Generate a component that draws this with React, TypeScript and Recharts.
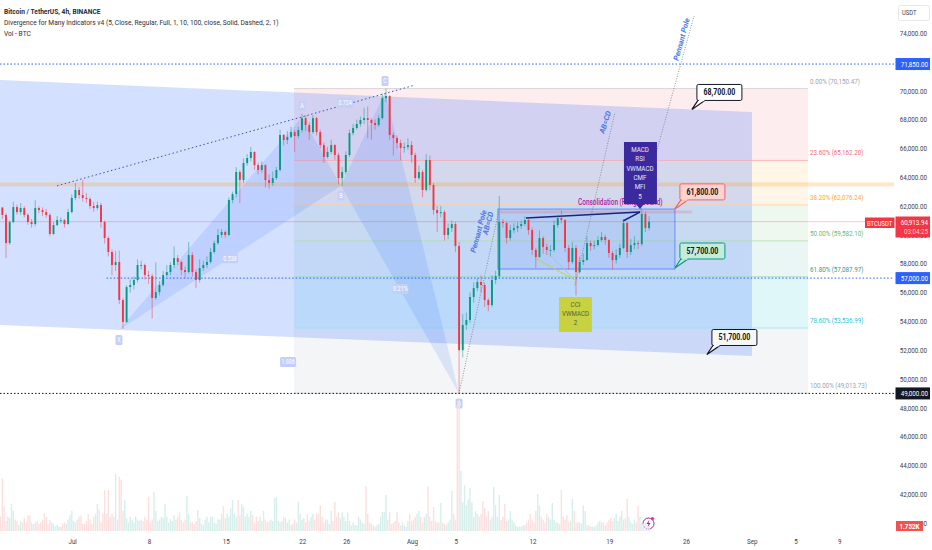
import React from "react";
import { ComposedChart, Bar, XAxis, YAxis, ReferenceArea } from "recharts";

document.body.style.margin = "0";

const FONT = 'Roboto, "Liberation Sans", sans-serif';
const SQUEEZE = 0.78;

// Candle data, one candle per 8h slot, price in thousands of USDT
const closes = [61.38,59.43,60.89,61.93,61.58,61.86,61.38,60.89,60.75,61.86,61.72,61.58,61.38,60.06,60.68,61.03,61.03,60.75,61.58,62.56,63.11,62.76,62.56,62.49,62.0,61.86,62.07,60.89,59.78,58.81,57.91,58.12,55.48,53.95,56.38,56.52,56.87,57.91,57.91,57.21,57.14,55.62,56.03,56.52,57.21,57.42,57.91,58.39,58.12,57.56,57.42,58.6,57.42,56.87,57.7,57.91,58.12,58.81,59.43,59.99,60.2,59.99,62.42,62.83,64.36,63.8,64.98,65.33,65.75,64.84,64.5,64.84,63.8,63.6,63.94,64.5,66.93,66.58,66.79,67.13,66.86,67.27,68.1,67.62,67.13,68.1,67.13,66.23,65.4,65.75,66.23,65.54,63.94,64.36,65.54,67.06,67.41,67.69,67.97,68.1,67.97,67.76,67.62,68.1,69.49,69.63,66.93,66.72,66.37,66.02,66.09,66.23,65.54,63.94,64.36,63.11,65.19,63.46,61.72,61.51,61.58,59.99,60.47,60.75,59.22,52.0,53.75,54.09,55.69,56.31,56.73,56.52,55.48,55.13,56.87,57.14,60.89,60.82,59.78,60.33,60.47,60.61,60.75,61.03,60.33,58.95,58.46,59.78,59.16,58.95,58.95,60.68,61.17,61.03,59.09,58.12,59.09,57.42,58.12,58.25,59.43,59.22,59.29,59.64,59.85,59.64,58.74,58.25,58.6,59.09,60.82,58.81,59.29,59.43,59.36,61.45,60.47,60.91];
const highs = [61.9,61.5,61.0,62.3,62.1,62.2,62.0,61.5,61.1,62.4,62.0,61.9,61.8,61.5,60.9,61.3,61.2,61.1,61.8,62.8,63.6,63.3,63.8,62.9,62.6,62.3,62.3,62.2,61.0,59.9,59.0,58.9,58.9,55.6,56.5,56.9,57.1,58.3,58.2,58.0,57.5,57.3,58.1,56.8,57.5,57.9,58.1,59.2,58.6,58.2,57.8,59.5,58.8,57.6,58.3,58.2,58.5,59.1,59.6,60.4,60.4,60.3,62.6,63.0,64.7,64.5,65.3,65.6,66.1,65.8,65.0,65.1,64.9,64.2,64.4,64.7,67.3,67.0,67.2,67.5,67.3,67.5,68.4,68.3,67.8,68.3,68.2,67.3,66.4,66.1,66.6,66.3,65.7,64.7,65.8,67.3,67.7,68.0,68.2,68.8,68.9,68.1,68.0,68.3,69.8,70.15,69.7,67.1,66.9,66.6,66.4,66.7,66.5,65.7,64.8,64.5,65.6,65.5,63.6,62.0,62.0,61.7,60.8,61.0,60.9,59.5,54.5,54.6,56.0,56.7,57.0,57.2,56.7,55.6,57.2,57.5,62.7,61.1,60.9,60.7,60.8,60.9,61.0,61.3,61.1,60.5,59.1,60.3,59.9,59.4,59.3,61.0,61.4,61.7,61.1,59.3,59.5,59.3,58.5,58.7,59.9,59.6,59.6,59.9,60.2,60.0,59.7,58.9,59.0,59.4,61.1,60.9,59.7,59.9,59.6,61.8,61.6,61.3];
const lows = [61.1,58.39,59.3,60.8,61.4,61.4,61.2,60.7,60.5,60.6,61.5,61.3,61.2,59.9,60.0,60.6,60.8,60.5,60.7,61.5,62.4,62.5,62.3,62.2,61.8,61.6,61.7,60.5,59.4,58.5,57.2,57.5,55.2,53.47,53.9,56.0,56.2,56.7,57.6,56.9,56.6,54.2,55.5,55.8,56.4,57.1,57.2,57.7,57.9,57.2,57.0,57.3,57.1,56.3,56.7,57.5,57.7,58.0,58.7,59.3,59.8,59.8,59.9,62.2,62.6,62.2,63.6,64.8,65.1,64.5,64.2,64.3,63.3,63.2,63.4,63.8,64.4,66.2,66.3,66.7,65.75,66.7,67.1,67.2,66.6,67.0,66.9,66.0,65.0,65.3,65.6,65.2,63.5,63.4,64.2,65.4,66.9,67.3,67.5,67.7,66.7,66.6,67.3,67.5,68.0,69.2,66.6,65.5,66.0,65.2,65.7,65.9,65.0,63.6,63.8,62.6,63.0,63.1,61.4,60.2,61.2,59.6,59.7,60.2,58.8,49.01,51.5,53.4,53.9,55.3,56.1,56.0,55.0,54.7,55.0,56.6,57.0,60.5,59.4,59.6,60.1,60.2,60.4,60.6,60.0,58.6,57.7,58.4,58.7,58.6,58.5,58.8,60.5,60.8,58.8,57.6,58.0,55.8,57.3,57.9,58.2,58.9,59.0,59.2,59.5,59.3,58.4,57.6,58.0,58.4,59.0,58.4,58.6,59.0,59.0,59.2,60.2,60.3];

// Volume per 4h bar, thousands of BTC
const volumes = [
5,18.5,8.7,3.5,5,4.5,9.5,7,4,3.5,2,3.5,3,4.5,3,5.5,5.5,3,2.5,3,
3.5,2.5,3,4,6.3,5,2.5,4,3,2.5,1.5,2,1.5,1.5,2.5,3,2.5,4,5.5,7,
3.5,3,4,5,5.5,2.5,2.5,3.5,6,4,2.5,5,6,9.5,7.5,3,6,14.3,6,14.3,
5,6,5,20,4,19,18,7,11,4.5,3,5,4,3,5,4,3.5,4,3.5,5,
4,12,3,4,13.7,7,3.5,4,5,4.5,9.5,5,3,4,3.5,5.5,4,5,6.5,4,
3,4,12.2,6,3,3,2.5,3.5,7.4,4.5,2.5,2,4,5,3,5,5,3,2.5,4,
4,6,8.7,4.5,6,5,8,10.9,6,5,10.9,5.5,9.5,8.5,5,6,5,7,5.5,3,
5,3.5,5,3.5,7,4,3,3.5,4,3.5,11.5,12,3.5,3,3.5,5,4.5,3,4,2,
2.5,4,3,10.2,6,4,4.5,3,6,3.5,5,6,4,6,6,9,5,3,4,4,
2.5,7,3.5,10.2,5,6.5,4.5,6.5,5,3.5,6.5,3.5,2,3,2,2,5,4,3,2.5,
15.7,6,3,2.5,2,1.5,2,2.5,5,6.7,6.7,12.6,4,6.7,2.5,3,3.5,6.7,3,2,
3,2,1.5,3.5,6,3.5,4,5,6,7,5,3,5,6,15.7,5,3.5,8.4,3.5,3,
3,9.8,3,2.5,2,3,4,14,6,4,44,46,21,10,16,9,11,15,10,5,
7,6,5,6,10.5,8,5,7,4,5,15.4,9,5,12.6,4,5,9.5,3.5,4,7,
4,3,2,1.5,1.5,1.5,2,2,3,4,6,4,3,7,13,9,5,4,3,6,
5,4,9.8,4,3,3,2.5,14.3,5,4,5.5,3,3.5,11.2,7,3,3,3,2.5,9,
7,2,2,1.5,1.5,1.5,2,3,3.5,3,3,2,3,4,4.5,3.5,4.5,6,3.5,5,
7,4,4.5,11.2,5,3,2.5,4,3,8.7,5,3,2.5,3,2,1.752];

// Axes (x is days from 1 July)
const DAY0 = -6.633;
const DAY1 = 74.94;
const PRICE0 = 39456;
const PRICE1 = 76292;
const priceTicks = [74000,70000,68000,66000,64000,62000,58000,56000,54000,52000,50000,48000,46000,44000,42000];
const coveredTicks = [72000,60000,40000];
const dayTicks = [0,7,14,21,25,31,35,42,49,56,62,66,70];
const dayLabels = ["Jul","8","15","22","26","Aug","5","12","19","26","Sep","5","9"];

// Fibonacci retracement
const fibLevels = [70150.47,65162.2,62076.24,59582.1,57087.97,53536.99,49013.73];
const fibNames = ["0.00%","23.60%","38.20%","50.00%","61.80%","78.60%","100.00%"];
const fibLines = ["#d0d1d6","#f9aab2","#ffd199","#b0dcb2","#96d4c8","#96e4ee","#d8d9dd"];
const fibText = ["#a0a3ad","#f06a7c","#ffa726","#66bb6a","#26a08e","#26c6da","#a0a3ad"];
const fibFills = ["rgba(242,54,69,0.09)","rgba(255,152,0,0.09)","rgba(76,175,80,0.09)","rgba(8,153,129,0.09)","rgba(0,188,212,0.12)","rgba(120,123,134,0.08)"];
const FIB_X0 = 20.19;
const FIB_X1 = 67.09;

// Parallel channel
const channel = [[-6.63,70740],[61.98,68520],[61.98,51590],[-6.63,53750]];
// Harmonic pattern points X A B C D
const harmonic = [[4.22,53400],[20.92,68180],[24.48,63400],[28.5,69910],[35.25,49000]];
const harmonicNames = ["X","A","B","C","D"];
const ratioLabels = [
  { day: 14.36, price: 58380, text: "0.538" },
  { day: 24.85, price: 69150, text: "0.724" },
  { day: 29.9, price: 56250, text: "0.21%" },
  { day: 19.65, price: 51180, text: "1.886" },
];
const callouts = [
  { day: 56.5, price: 68700, text: "68,700.00", stroke: "#131722", fill: "#ffffff" },
  { day: 54.95, price: 61800, text: "61,800.00", stroke: "#f0636b", fill: "#fdd3cf" },
  { day: 54.95, price: 57700, text: "57,700.00", stroke: "#089981", fill: "#c4ebdc" },
  { day: 57.87, price: 51700, text: "51,700.00", stroke: "#131722", fill: "#f7f7f8" },
];
const macdLines = ["MACD","RSI","VWMACD","CMF","MFI","5"];
const cciLines = ["CCI","VWMACD","2"];
const legend = ["Bitcoin / TetherUS, 4h, BINANCE","Divergence for Many Indicators v4 (5, Close, Regular, Full, 1, 10, 100, close, Solid, Dashed, 2, 1)","Vol - BTC"];

const rows = volumes.map((v, i) => {
  const even = i % 2 === 0;
  const k = even ? i / 2 : (i - 1) / 2;
  const close = closes[k] * 1000;
  const open = k > 0 ? closes[k - 1] * 1000 : 61900;
  return {
    t: DAY0 + (1 + i * 1.827) / 10.96,
    vol: v,
    up: close >= open,
    candle: even ? [lows[k] * 1000, highs[k] * 1000] : null,
    open,
    close,
  };
});

const fmt = (n: number) => n.toLocaleString("en-US", { minimumFractionDigits: 2, maximumFractionDigits: 2 });

// Condensed text: the reference's labels are narrower than any installed face
const T = ({ x, y, size = 8, anchor = "start", fill = "#3a3e49", weight = 400, squeeze = SQUEEZE, children }: any) => (
  <text transform={`translate(${x},${y}) scale(${squeeze},1)`} textAnchor={anchor} fontSize={size} fontWeight={weight} fontFamily={FONT} fill={fill}>{children}</text>
);

const CandleShape = (p: any) => {
  const { x, y, width, height, payload } = p;
  if (!payload || !payload.candle) return null;
  const [lo, hi] = payload.candle;
  const top = Math.min(y, y + height);
  const h = Math.abs(height);
  const ppu = h / (hi - lo);
  const yo = top + (hi - payload.open) * ppu;
  const yc = top + (hi - payload.close) * ppu;
  const cx = x + width / 2 + 0.9;
  const col = payload.up ? "#089981" : "#f23645";
  return (
    <g>
      <line x1={cx} x2={cx} y1={top} y2={top + h} stroke={col} strokeWidth={0.7} strokeOpacity={0.7} />
      <rect x={cx - 0.95} width={1.9} y={Math.min(yo, yc)} height={Math.max(Math.abs(yo - yc), 0.8)} fill={col} />
    </g>
  );
};

const VolShape = (p: any) => {
  const { x, y, width, height, payload } = p;
  return <rect x={x + width / 2 - 0.7} y={y} width={1.4} height={height} fill={payload.up ? "#d6efea" : "#fcdfdf"} />;
};

const scales = (p: any) => ({
  sx: (d: number) => p.x + ((d - DAY0) / (DAY1 - DAY0)) * p.width,
  sy: (v: number) => p.y + ((PRICE1 - v) / (PRICE1 - PRICE0)) * p.height,
});

const pts = (arr: number[][], sx: any, sy: any) => arr.map(([d, v]) => `${sx(d)},${sy(v)}`).join(" ");

const AxisTag = ({ y, text, fill }: any) => (
  <g>
    <rect x={895.5} y={y - 6} width={34.5} height={12} fill={fill} />
    <T x={928} y={y + 2.8} anchor="end" fill="#fff">{text}</T>
  </g>
);

const Overlay = (p: any) => {
  const { sx, sy } = scales(p);
  const x0 = p.x;
  const x1 = p.x + p.width;
  const [X, A, B, C, D] = harmonic;
  const seg = (a: number[], b: number[], stroke: string, w: number, dash?: string) => (
    <line x1={sx(a[0])} y1={sy(a[1])} x2={sx(b[0])} y2={sy(b[1])} stroke={stroke} strokeWidth={w} strokeDasharray={dash} />
  );
  return (
    <g>
      {fibFills.map((f, i) => (
        <rect key={i} x={sx(FIB_X0)} width={sx(FIB_X1) - sx(FIB_X0)} y={sy(fibLevels[i])} height={sy(fibLevels[i + 1]) - sy(fibLevels[i])} fill={f} />
      ))}
      <polygon points={pts(channel, sx, sy)} fill="rgba(41,98,255,0.2)" />
      {fibLevels.map((l, i) => (
        <g key={i}>
          <line x1={sx(FIB_X0)} x2={sx(FIB_X1)} y1={sy(l)} y2={sy(l)} stroke={fibLines[i]} strokeWidth={0.8} />
          <T x={810} y={sy(l) - 5} fill={fibText[i]}>{`${fibNames[i]} (${fmt(l)})`}</T>
        </g>
      ))}
      <polygon points={pts([X, A, B], sx, sy)} fill="rgba(41,98,255,0.13)" />
      <polygon points={pts([B, C, D], sx, sy)} fill="rgba(41,98,255,0.13)" />
      <rect x={x0} width={p.width} y={sy(63500) - 2} height={4} fill="rgba(255,152,0,0.22)" />
      <line x1={x0} x2={x1} y1={sy(60913.94)} y2={sy(60913.94)} stroke="rgba(242,54,69,0.35)" strokeWidth={0.8} />
      {seg([-1.43, 63400], [31.23, 70390], "#3f51b5", 1, "1.5 2.5")}
      <line x1={x0} x2={x1} y1={sy(71850)} y2={sy(71850)} stroke="#2962ff" strokeWidth={1} strokeDasharray="1.5 2" />
      <line x1={sx(3.1)} x2={x1} y1={sy(57000)} y2={sy(57000)} stroke="#2962ff" strokeWidth={1} strokeDasharray="1.5 2" />
      <line x1={x0} x2={x1} y1={sy(49000)} y2={sy(49000)} stroke="#131722" strokeWidth={1} strokeDasharray="1.5 2" />
      <rect x={sx(38.8)} width={sx(54.95) - sx(38.8)} y={sy(61790)} height={sy(57630) - sy(61790)} fill="rgba(41,98,255,0.1)" stroke="rgba(41,98,255,0.6)" strokeWidth={1} />
      {seg([38.99, 61580], [56.5, 61580], "rgba(242,54,69,0.18)", 3)}
      {seg([35.25, 49000], [38.9, 61720], "#787b86", 0.8, "1 1.5")}
      {seg([51.76, 61600], [56.69, 75180], "#787b86", 0.8, "1 1.5")}
      {seg([45.83, 56500], [49.48, 68500], "#787b86", 0.8, "1 1.5")}
      {seg([41.36, 61170], [51.76, 61580], "#1a237e", 1.5)}
      {seg([50.21, 60960], [51.76, 61580], "#1a237e", 1.5)}
      {seg([42.18, 58390], [45.83, 56870], "#c5d14a", 1)}
      {seg([43.37, 58740], [45.65, 57000], "#c5d14a", 1)}
      <T x={578} y={sy(61790) - 4.5} size={8.3} weight={500} fill="#ab1fa8">Consolidation (Range Bound)</T>
      {[
        ["Pennant Pole", 481, 232, -75],
        ["AB=CD", 490.5, 224, -75],
        ["Pennant Pole", 684, 40, -75],
        ["AB=CD", 607.7, 123, -72],
      ].map(([s, tx, ty, r]: any, i) => (
        <text key={i} transform={`translate(${tx},${ty}) rotate(${r})`} textAnchor="middle" fontSize={7.5} fontStyle="italic" fontWeight={700} fontFamily={FONT} fill="#4a78e8">{s}</text>
      ))}
      {harmonic.map(([d, v], i) => {
        const dy = i === 2 || i === 0 || i === 4 ? 10 : -11;
        return (
          <g key={i}>
            <rect x={sx(d) - 3.5} y={sy(v) + dy - 5} width={7} height={10} rx={1.5} fill="#c5d0f6" />
            <T x={sx(d)} y={sy(v) + dy + 2.5} size={7} anchor="middle" fill="#fff">{harmonicNames[i]}</T>
          </g>
        );
      })}
      {ratioLabels.map((r, i) => (
        <g key={i}>
          <rect x={sx(r.day) - 8} y={sy(r.price) - 5} width={16} height={10} rx={1.5} fill="#c3cff8" />
          <T x={sx(r.day)} y={sy(r.price) + 2.5} size={7} anchor="middle" fill="#fff">{r.text}</T>
        </g>
      ))}
      <polygon points="625,142 658,142 658,204 645,204 641,209 637,204 625,204" transform={`translate(${sx(51.76) - 641},${sy(66440) - 142})`} fill="#3b2a9e" />
      {macdLines.map((s, i) => (
        <T key={i} x={sx(51.76)} y={sy(66440) + 10 + i * 9.3} anchor="middle" fill="#e8e6f8">{s}</T>
      ))}
      <rect x={sx(44.37)} width={sx(47.38) - sx(44.37)} y={sy(55690)} height={sy(53260) - sy(55690)} rx={1} fill="#c8d23f" />
      {cciLines.map((s, i) => (
        <T key={i} x={sx(45.88)} y={sy(55690) + 10 + i * 9.2} anchor="middle" fill="#5c6140">{s}</T>
      ))}
      {callouts.map((c, i) => {
        const tx = sx(c.day);
        const ty = sy(c.price);
        return (
          <g key={i}>
            <polygon points={`${tx},${ty} ${tx + 6},${ty - 9} ${tx + 13},${ty - 9}`} fill={c.fill} stroke={c.stroke} strokeWidth={1.2} />
            <rect x={tx + 5} y={ty - 25} width={45} height={16} rx={1.5} fill={c.fill} stroke={c.stroke} strokeWidth={1} />
            <rect x={tx + 7} y={ty - 10} width={5.5} height={1.8} fill={c.fill} />
            <T x={tx + 27.5} y={ty - 14} size={9} weight={700} anchor="middle" fill="#131722">{c.text}</T>
          </g>
        );
      })}
      {legend.map((s, i) => (
        <T key={i} x={4} y={14 + i * 11.2} size={8} squeeze={0.83} weight={i === 0 ? 700 : 400} fill="#2a2e39">{s}</T>
      ))}
      <rect x={898.5} y={5.5} width={31} height={15} rx={2} fill="#fff" stroke="#e6e7ea" />
      <T x={902} y={15} size={7.5}>USDT</T>
      {coveredTicks.map((v) => (
        <T key={v} x={927} y={sy(v) + 2.8} anchor="end">{fmt(v)}</T>
      ))}
      <AxisTag y={sy(71850)} text="71,850.00" fill="#2962ff" />
      <AxisTag y={sy(57000)} text="57,000.00" fill="#2962ff" />
      <AxisTag y={sy(49000)} text="49,000.00" fill="#131722" />
      <rect x={865} y={217.5} width={29.5} height={10.5} fill="#f23645" />
      <T x={879.7} y={225.5} size={7.5} anchor="middle" fill="#fff">BTCUSDT</T>
      <rect x={895.5} y={216.5} width={34.5} height={21} fill="#f23645" />
      <T x={928} y={224.5} anchor="end" fill="#fff">{fmt(60913.94)}</T>
      <T x={928} y={234} anchor="end" fill="#fbc9cd">03:04:25</T>
      <rect x={896} y={521} width={27} height={10} fill="#ef5350" />
      <T x={909.5} y={529} weight={700} anchor="middle" fill="#fff">1.752K</T>
      <circle cx={648.5} cy={523.5} r={5.5} fill="#fff" stroke="#9c27b0" strokeWidth={1} />
      <path d="M649.5 519.5 L646.5 524 L648.5 524 L647.5 527.5 L650.5 523 L648.5 523 Z" fill="#9c27b0" />
      <circle cx={652.5} cy={518.5} r={1.6} fill="#f23645" />
    </g>
  );
};

const tickX = (p: any) => {
  const i = dayTicks.indexOf(p.payload.value);
  return <T x={p.x} y={544} anchor="middle">{dayLabels[i]}</T>;
};

const tickY = (p: any) => <T x={927} y={p.y + 2.8} anchor="end">{fmt(p.payload.value)}</T>;

export default function App() {
  return (
    <div style={{ width: 932, height: 550, background: "#fff" }}>
      <ComposedChart width={932} height={550} data={rows} margin={{ top: 0, right: 0, bottom: 0, left: 0 }} barGap={0} barCategoryGap={0}>
        <XAxis dataKey="t" type="number" domain={[DAY0, DAY1]} allowDataOverflow ticks={dayTicks} tick={tickX} tickLine={false} axisLine={false} height={19} interval={0} />
        <YAxis yAxisId="price" orientation="right" width={38} domain={[PRICE0, PRICE1]} allowDataOverflow ticks={priceTicks} interval={0} tickLine={false} axisLine={false} tick={tickY} />
        <YAxis yAxisId="vol" hide domain={[0, 186]} allowDataOverflow />
        <Bar yAxisId="vol" dataKey="vol" shape={VolShape} isAnimationActive={false} />
        <Bar yAxisId="price" dataKey="candle" shape={CandleShape} isAnimationActive={false} />
        <ReferenceArea yAxisId="price" x1={DAY0} x2={DAY1} y1={PRICE0} y2={PRICE1} shape={Overlay} />
      </ComposedChart>
    </div>
  );
}
